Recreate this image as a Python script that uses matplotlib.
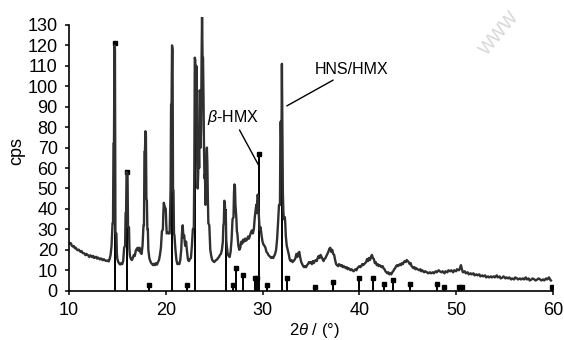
import matplotlib
matplotlib.use('Agg')
from matplotlib import pyplot as plt

plt.rcParams['font.family'] = ['Liberation Sans Narrow', 'Liberation Sans', 'DejaVu Sans']
plt.rcParams['mathtext.fontset'] = 'custom'
plt.rcParams['mathtext.rm'] = 'Liberation Sans'
plt.rcParams['mathtext.it'] = 'Liberation Sans:italic'

two_theta = [
    10.0, 10.1, 10.2, 10.3, 10.4, 10.5, 10.6, 10.7, 10.8, 10.9, 11.0, 11.2, 11.3, 11.4, 11.6,
    11.7, 11.8, 12.0, 12.1, 12.2, 12.4, 12.5, 12.6, 12.8, 12.9, 13.0, 13.2, 13.3, 13.5, 13.6,
    13.8, 14.0, 14.1, 14.2, 14.3, 14.4, 14.5, 14.55, 14.6, 14.65, 14.7, 14.75, 14.8, 14.9, 14.95,
    15.0, 15.1, 15.2, 15.3, 15.4, 15.5, 15.6, 15.7, 15.8, 15.85, 15.9, 15.95, 16.05, 16.1, 16.2,
    16.25, 16.3, 16.4, 16.5, 16.6, 16.7, 16.8, 16.9, 17.0, 17.1, 17.2, 17.3, 17.4, 17.5, 17.6,
    17.7, 17.75, 17.8, 17.85, 17.9, 17.95, 18.0, 18.05, 18.1, 18.15, 18.2, 18.3, 18.4, 18.5, 18.6,
    18.7, 18.8, 18.9, 19.0, 19.1, 19.2, 19.3, 19.4, 19.5, 19.6, 19.7, 19.75, 19.8, 19.9, 20.0,
    20.05, 20.1, 20.2, 20.3, 20.4, 20.5, 20.55, 20.6, 20.65, 20.7, 20.75, 20.8, 20.85, 20.9, 21.0,
    21.1, 21.2, 21.3, 21.4, 21.5, 21.6, 21.65, 21.7, 21.75, 21.8, 21.85, 21.9, 22.0, 22.1, 22.2,
    22.3, 22.4, 22.5, 22.6, 22.7, 22.8, 22.9, 22.95, 23.0, 23.05, 23.1, 23.15, 23.2, 23.25, 23.3,
    23.35, 23.4, 23.45, 23.5, 23.55, 23.6, 23.65, 23.7, 23.75, 23.8, 23.85, 23.9, 23.95, 24.0, 24.05,
    24.1, 24.15, 24.2, 24.25, 24.3, 24.35, 24.4, 24.5, 24.6, 24.7, 24.8, 24.9, 25.0, 25.1, 25.2,
    25.3, 25.4, 25.5, 25.6, 25.7, 25.8, 25.9, 25.95, 26.0, 26.05, 26.1, 26.15, 26.2, 26.25, 26.3,
    26.4, 26.5, 26.6, 26.7, 26.8, 26.9, 27.0, 27.05, 27.1, 27.15, 27.2, 27.3, 27.35, 27.4, 27.5,
    27.6, 27.7, 27.8, 27.9, 28.0, 28.1, 28.2, 28.3, 28.4, 28.5, 28.6, 28.7, 28.8, 28.9, 29.0,
    29.1, 29.2, 29.3, 29.35, 29.4, 29.45, 29.5, 29.55, 29.6, 29.7, 29.8, 29.9, 30.0, 30.1, 30.2,
    30.3, 30.4, 30.5, 30.6, 30.7, 30.8, 30.9, 31.0, 31.1, 31.2, 31.3, 31.4, 31.5, 31.6, 31.7,
    31.8, 31.85, 31.9, 31.95, 32.0, 32.05, 32.1, 32.15, 32.2, 32.3, 32.35, 32.4, 32.5, 32.6, 32.7,
    32.8, 32.9, 33.0, 33.1, 33.2, 33.3, 33.4, 33.5, 33.6, 33.7, 33.8, 33.9, 34.0, 34.1, 34.2,
    34.3, 34.4, 34.5, 34.6, 34.7, 34.8, 34.9, 35.0, 35.1, 35.2, 35.3, 35.4, 35.5, 35.6, 35.7,
    35.8, 35.9, 36.0, 36.1, 36.2, 36.3, 36.4, 36.5, 36.6, 36.7, 36.8, 36.9, 37.0, 37.1, 37.2,
    37.3, 37.4, 37.5, 37.6, 37.7, 37.8, 37.9, 38.0, 38.1, 38.2, 38.3, 38.4, 38.5, 38.6, 38.7,
    38.8, 38.9, 39.0, 39.1, 39.2, 39.3, 39.4, 39.5, 39.6, 39.7, 39.8, 39.9, 40.0, 40.1, 40.2,
    40.3, 40.4, 40.5, 40.6, 40.7, 40.8, 40.9, 41.0, 41.1, 41.2, 41.3, 41.4, 41.5, 41.6, 41.7,
    41.8, 41.9, 42.0, 42.1, 42.2, 42.3, 42.4, 42.5, 42.6, 42.7, 42.8, 42.9, 43.0, 43.1, 43.2,
    43.3, 43.4, 43.5, 43.6, 43.7, 43.8, 43.9, 44.0, 44.1, 44.2, 44.3, 44.4, 44.5, 44.6, 44.7,
    44.8, 44.9, 45.0, 45.1, 45.2, 45.3, 45.4, 45.5, 45.6, 45.7, 45.8, 45.9, 46.0, 46.2, 46.3,
    46.4, 46.5, 46.7, 46.8, 47.0, 47.1, 47.3, 47.4, 47.6, 47.7, 47.9, 48.0, 48.2, 48.3, 48.5,
    48.6, 48.8, 48.9, 49.1, 49.2, 49.4, 49.5, 49.7, 49.8, 50.0, 50.1, 50.3, 50.4, 50.5, 50.6,
    50.7, 50.9, 51.0, 51.2, 51.3, 51.5, 51.6, 51.8, 51.9, 52.1, 52.2, 52.4, 52.5, 52.7, 52.8,
    53.0, 53.1, 53.3, 53.4, 53.6, 53.7, 53.9, 54.0, 54.2, 54.3, 54.5, 54.6, 54.8, 54.9, 55.1,
    55.2, 55.4, 55.5, 55.7, 55.8, 56.0, 56.1, 56.3, 56.4, 56.6, 56.7, 56.9, 57.0, 57.2, 57.3,
    57.5, 57.6, 57.8, 57.9, 58.1, 58.2, 58.4, 58.5, 58.7, 58.8, 59.0, 59.1, 59.3, 59.4, 59.6,
    59.7, 59.8]
cps = [
    23.5, 22.8, 23.2, 22.0, 21.6, 21.9, 20.8, 21.0, 20.2, 19.8, 20.1, 19.0, 19.4, 18.5, 18.2,
    17.4, 18.0, 17.2, 16.5, 17.3, 16.4, 17.0, 16.0, 16.6, 15.7, 16.2, 15.3, 15.8, 14.9, 15.4,
    14.6, 14.8, 14.3, 15.5, 17.5, 22.0, 33.0, 33.0, 72.0, 72.0, 120.0, 118.0, 28.0, 28.0, 18.0,
    15.5, 14.0, 13.2, 12.8, 13.5, 13.0, 14.5, 21.0, 22.0, 38.0, 38.0, 58.0, 57.0, 31.0, 31.0,
    20.0, 17.0, 15.5, 15.0, 16.0, 17.5, 17.0, 19.5, 20.5, 21.0, 19.5, 21.0, 18.5, 18.0, 22.0,
    32.0, 32.0, 68.0, 68.0, 78.0, 76.0, 45.0, 44.0, 30.0, 30.0, 20.0, 16.0, 14.5, 13.5, 13.0,
    12.5, 13.2, 12.5, 13.5, 12.8, 14.0, 15.0, 17.5, 21.0, 29.0, 30.0, 38.0, 43.0, 41.0, 40.0,
    33.0, 28.0, 28.5, 28.0, 28.0, 50.0, 91.0, 91.0, 120.0, 118.0, 49.0, 49.0, 28.0, 27.0, 20.0,
    15.0, 13.0, 13.5, 13.0, 15.0, 20.0, 26.0, 30.0, 32.0, 28.0, 26.0, 27.0, 22.0, 24.0, 19.0,
    15.0, 14.5, 15.5, 16.0, 22.0, 30.0, 31.0, 60.0, 114.0, 113.0, 95.0, 110.0, 109.0, 62.0, 50.0,
    57.0, 78.0, 60.0, 98.0, 97.0, 70.0, 80.0, 113.0, 134.0, 115.0, 114.0, 95.0, 70.0, 55.0, 57.0,
    42.0, 60.0, 65.0, 70.0, 62.0, 45.0, 33.0, 32.0, 20.0, 17.0, 15.0, 14.5, 14.0, 14.5, 15.0,
    15.2, 16.0, 16.5, 17.5, 18.0, 20.0, 24.0, 32.0, 33.0, 44.0, 43.0, 38.0, 39.0, 25.0, 22.0,
    18.0, 17.0, 16.5, 19.0, 25.0, 35.0, 36.0, 48.0, 52.0, 51.0, 42.0, 35.0, 29.0, 28.0, 22.0,
    20.0, 21.0, 24.0, 23.0, 25.0, 24.0, 25.5, 24.5, 25.0, 26.5, 25.5, 27.0, 28.5, 29.5, 28.0,
    30.0, 36.0, 40.0, 42.0, 38.0, 44.0, 47.0, 45.0, 38.0, 30.0, 31.0, 27.0, 24.0, 22.5, 22.0,
    21.0, 19.0, 18.5, 17.5, 17.0, 16.5, 16.0, 16.5, 16.0, 17.0, 18.0, 20.0, 25.0, 33.0, 42.0,
    42.0, 82.0, 83.0, 67.0, 111.0, 82.0, 48.0, 39.0, 35.0, 36.0, 33.0, 27.0, 22.0, 20.0, 18.0,
    15.5, 14.5, 15.0, 14.0, 14.5, 15.0, 16.0, 18.0, 16.5, 18.5, 19.0, 16.0, 14.0, 13.0, 12.0,
    11.5, 12.0, 11.5, 12.5, 13.0, 14.0, 13.5, 14.0, 13.0, 14.5, 13.5, 14.5, 15.0, 14.5, 16.0,
    17.0, 16.0, 17.5, 16.5, 15.5, 14.5, 15.5, 16.0, 17.0, 18.0, 19.0, 20.5, 21.0, 19.0, 20.0,
    18.0, 17.5, 15.0, 13.0, 12.5, 12.0, 13.0, 12.5, 12.0, 12.5, 11.5, 12.0, 11.5, 11.0, 11.5,
    10.5, 11.0, 10.5, 10.0, 10.5, 10.0, 9.5, 10.0, 10.5, 10.0, 11.0, 11.5, 12.0, 11.5, 12.0,
    13.0, 12.5, 13.0, 13.5, 14.0, 15.5, 14.5, 16.0, 15.0, 16.5, 17.5, 16.0, 15.5, 13.5, 14.0,
    12.5, 13.0, 12.0, 12.5, 12.0, 11.5, 12.0, 11.0, 10.5, 9.5, 9.0, 8.5, 9.0, 8.0, 8.5,
    8.0, 9.0, 9.5, 10.5, 11.0, 12.0, 12.5, 12.0, 12.5, 13.0, 12.5, 13.5, 13.0, 14.0, 14.5,
    14.0, 15.0, 14.5, 14.0, 13.0, 13.5, 12.0, 11.5, 11.0, 11.5, 10.5, 11.0, 10.5, 10.0, 10.5,
    9.5, 10.0, 9.0, 9.5, 9.0, 8.5, 9.0, 8.5, 9.0, 8.5, 9.5, 9.0, 10.0, 9.5, 9.0,
    9.5, 8.5, 9.5, 9.0, 10.0, 9.5, 10.0, 9.0, 10.0, 9.5, 10.5, 10.0, 11.0, 12.5, 10.5,
    9.0, 9.5, 8.5, 9.0, 8.0, 8.5, 8.0, 8.5, 7.5, 8.0, 7.5, 8.0, 7.0, 7.5, 7.0,
    7.5, 6.5, 7.0, 6.5, 7.0, 6.5, 7.0, 6.5, 7.5, 6.5, 7.0, 6.0, 6.5, 7.0, 6.0,
    6.5, 6.0, 6.5, 5.5, 6.0, 5.5, 6.5, 6.0, 5.5, 6.0, 5.5, 6.0, 5.5, 6.5, 5.5,
    6.0, 5.0, 5.5, 6.0, 5.5, 5.0, 5.5, 6.0, 5.5, 5.0, 5.5, 5.0, 6.0, 5.5, 6.5,
    5.5, 5.0]

# reference stick pattern
ref_pos = [14.72, 16.02, 18.27, 20.64, 22.17, 23.05, 26.22, 26.93, 27.30, 27.93, 29.22, 29.38,
           29.62, 30.45, 32.02, 32.48, 35.40, 37.25, 40.0, 41.4, 42.5, 43.45, 45.25, 48.0,
           48.8, 50.3, 50.6, 59.9]
ref_int = [121, 58, 3, 120, 3, 114, 40, 3, 11, 7.5, 6, 6,
           67, 3, 111, 6, 2, 4.5, 6, 6, 3.5, 5, 3.5, 3.5,
           2, 2, 2, 2]

fig = plt.figure(figsize=(5.64, 3.4), dpi=100)
ax = fig.add_axes([0.1223, 0.145, 0.858, 0.8056])

ax.vlines(ref_pos, 0, ref_int, colors='black', linewidth=1.4)
# tops of the tall sticks hidden in the measured peaks carry no dot
dotted = [i for i in range(len(ref_pos)) if i not in (3, 5, 6, 14)]
ax.plot([ref_pos[i] for i in dotted], [ref_int[i] for i in dotted], 's',
        color='black', markersize=2.2)
ax.plot(two_theta, cps, '-', color='#303030', linewidth=1.7)

ax.set_xlim(10, 60)
ax.set_ylim(0, 134)
ax.set_xticks(range(10, 61, 10))
ax.set_yticks(range(0, 131, 10))
ax.spines['top'].set_visible(False)
ax.spines['right'].set_visible(False)
ax.spines['left'].set_bounds(0, 130)
for s in ('left', 'bottom'):
    ax.spines[s].set_linewidth(1.2)
ax.tick_params(direction='out', length=3, width=1.1, labelsize=13, pad=5)

fig.text(0.03, 0.557, 'cps', rotation=90, fontsize=13, ha='center', va='center')
fig.text(0.557, 0.028, r'2$\mathit{\theta}$ / (°)', fontsize=12, ha='center', va='center')

ax.annotate(r'$\mathit{\beta}$-HMX', xy=(29.58, 61.5), xytext=(26.93, 80),
            fontsize=11.5, ha='center', va='bottom',
            arrowprops=dict(arrowstyle='-', color='black', lw=1, shrinkA=0, shrinkB=0))
ax.annotate('HNS/HMX', xy=(32.51, 90.4), xytext=(35.4, 104.4),
            fontsize=11.5, ha='left', va='bottom',
            arrowprops=dict(arrowstyle='-', color='black', lw=1, shrinkA=0, shrinkB=0))

# faint watermark in the corner
fig.text(0.886, 0.9, 'WWW', rotation=50, color='#d6d6d6', fontsize=13,
         ha='center', va='center')

fig.savefig('out.png', dpi=100)
